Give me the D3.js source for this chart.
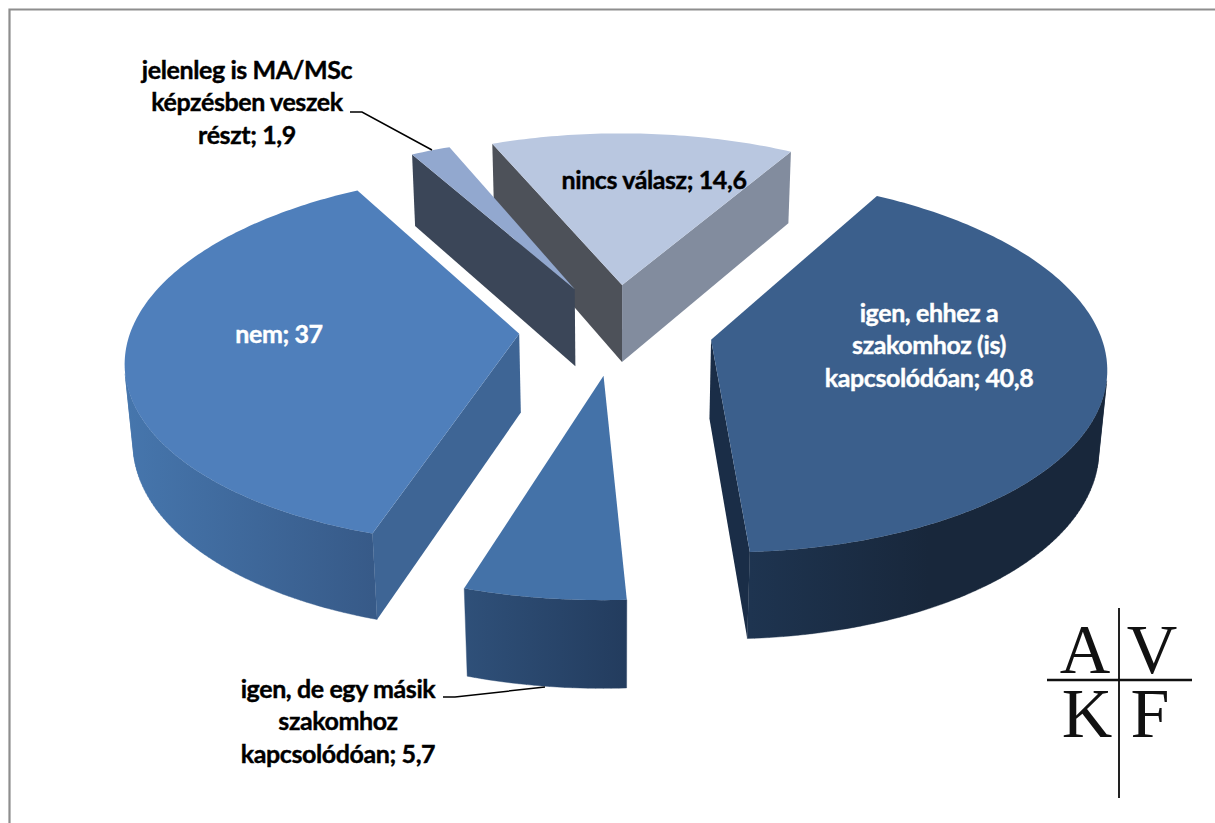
<!DOCTYPE html>
<html>
<head>
<meta charset="utf-8">
<script src="https://cdn.jsdelivr.net/npm/d3@7"></script>
<style>
  html, body { margin: 0; padding: 0; background: #fff; overflow: hidden; }
  text { font-family: Lato, sans-serif; font-weight: 700; }
</style>
</head>
<body>
<div id="chart"></div>
<script>
const W = 1215;
const H = 823;

const categories = ['igen, ehhez a szakomhoz (is) kapcsolódóan', 'igen, de egy másik szakomhoz kapcsolódóan', 'nem', 'jelenleg is MA/MSc képzésben veszek részt', 'nincs válasz'];
const values = [40.8, 5.7, 37, 1.9, 14.6];
const labelLines = [
  ['igen, ehhez a', 'szakomhoz (is)', 'kapcsolódóan; 40,8'],
  ['igen, de egy másik', 'szakomhoz', 'kapcsolódóan; 5,7'],
  ['nem; 37'],
  ['jelenleg is MA/MSc', 'képzésben veszek', 'részt; 1,9'],
  ['nincs válasz; 14,6']
];

// colours per slice
const topColors = ['#3b5f8c', '#4472a8', '#4f7fbb', '#92a8cf', '#b9c7e0'];
const startWall = ['#1a2d47', '#2a4668', '#3e6595', '#3b4658', '#4d5159'];
const endWall = ['#1a2d47', '#2a4668', '#3e6595', '#3b4658', '#828c9e'];
const rimStops = [
  ['#1e3450', '#18273b', '#18273b'],
  ['#2f5079', '#233c5e'],
  ['#4676ad', '#375a88'],
  ['#3b4658', '#3b4658'],
  ['#828c9e', '#828c9e']
];
const labelColors = ['#fff', '#000', '#fff', '#000', '#000'];

// label anchors, leaders
const labelPos = [[929, 322], [338, 698], [279, 343], [247, 79], [654, 189]];
const leaders = [
  null,
  [[443, 697], [455, 697], [545, 687]],
  null,
  [[350, 112], [362, 112], [432, 150]],
  null
];

// rough camera for the tilted pie
const cx = 616, cy = 329, R = 388, K = 182, DEPTH = 80, P = 0.13, Q = 0.017, EXPLODE = 0.25;
const START = 30 * Math.PI / 180;

function project(u, v, z) {
  const w = 1 / (1 - P * v + Q * z);
  return [cx + u * R * w, cy + (v * K + z * DEPTH) * w];
}

const svg = d3.select('#chart').append('svg')
  .attr('width', W)
  .attr('height', H)
  .style('display', 'block');

svg.append('path')
  .attr('d', `M9.5,${H + 5}V9.5H${W + 5}`)
  .attr('fill', 'none')
  .attr('stroke', '#8e8e8e')
  .attr('stroke-width', 2.2);

const pie = d3.pie().sort(null).value(d => d).startAngle(START).endAngle(START + 2 * Math.PI);
const line = d3.line();
const defs = svg.append('defs');

const slices = pie(values).map((d, i) => {
  const mid = (d.startAngle + d.endAngle) / 2;
  const ou = EXPLODE * Math.sin(mid);
  const ov = -EXPLODE * Math.cos(mid);
  const n = Math.max(4, Math.round((d.endAngle - d.startAngle) * 60));
  const angles = d3.range(n + 1).map(k => d.startAngle + (d.endAngle - d.startAngle) * k / n);
  const rim = z => angles.map(a => project(ou + Math.sin(a), ov - Math.cos(a), z));
  const apex = z => project(ou, ov, z);
  return { i, ov, rim, apex };
});

// paint back to front
const order = slices.slice().sort((a, b) => a.ov - b.ov);

order.forEach(s => {
  const g = svg.append('g');
  const topRim = s.rim(0);
  const botRim = s.rim(1);

  const xs = d3.extent(topRim, p => p[0]);
  const grad = defs.append('linearGradient')
    .attr('id', 'rim' + s.i)
    .attr('gradientUnits', 'userSpaceOnUse')
    .attr('x1', xs[0]).attr('x2', xs[1])
    .attr('y1', 0).attr('y2', 0);
  rimStops[s.i].forEach((c, k, arr) => {
    grad.append('stop').attr('offset', k / (arr.length - 1)).attr('stop-color', c);
  });

  // outer wall as small quads, the ones turned away are dropped
  const quads = d3.pairs(d3.range(topRim.length))
    .map(([a, b]) => [topRim[a], topRim[b], botRim[b], botRim[a]])
    .filter(q => d3.polygonArea(q) > 0);
  if (quads.length) {
    g.append('path')
      .attr('d', quads.map(q => line(q) + 'Z').join(''))
      .attr('fill', `url(#rim${s.i})`)
      .attr('stroke', `url(#rim${s.i})`)
      .attr('stroke-width', 0.4);
  }

  const startQuad = [s.apex(0), topRim[0], botRim[0], s.apex(1)];
  const endQuad = [s.apex(0), topRim[topRim.length - 1], botRim[botRim.length - 1], s.apex(1)];
  if (d3.polygonArea(startQuad) > 0) {
    g.append('path').attr('d', line(startQuad) + 'Z').attr('fill', startWall[s.i]);
  }
  if (d3.polygonArea(endQuad) < 0) {
    g.append('path').attr('d', line(endQuad) + 'Z').attr('fill', endWall[s.i]);
  }

  g.append('path')
    .attr('d', line([s.apex(0)].concat(topRim)) + 'Z')
    .attr('fill', topColors[s.i]);
});

// leaders
leaders.forEach(pts => {
  if (!pts) return;
  svg.append('path')
    .attr('d', line(pts))
    .attr('fill', 'none')
    .attr('stroke', '#000')
    .attr('stroke-width', 1.5);
});

// labels
labelLines.forEach((lines, i) => {
  const t = svg.append('text')
    .attr('text-anchor', 'middle')
    .attr('fill', labelColors[i])
    .attr('stroke', labelColors[i])
    .attr('stroke-width', 0.4)
    .style('font-size', '25px')
    .style('letter-spacing', '-0.4px');
  lines.forEach((str, k) => {
    t.append('tspan')
      .attr('x', labelPos[i][0])
      .attr('y', labelPos[i][1] + k * 32.3)
      .text(str);
  });
});

// logo
const logoLetters = ['A', 'V', 'K', 'F'];
const logoPos = [[1085, 673], [1152, 673], [1087, 737], [1150, 737]];
const logo = svg.append('g');
logo.selectAll('text')
  .data(logoLetters)
  .enter()
  .append('text')
  .attr('x', (d, i) => logoPos[i][0])
  .attr('y', (d, i) => logoPos[i][1])
  .attr('text-anchor', 'middle')
  .attr('fill', '#111')
  .style('font-family', '"Liberation Serif", serif')
  .style('font-weight', 400)
  .style('font-size', '70px')
  .text(d => d);
logo.append('line').attr('x1', 1119).attr('x2', 1119).attr('y1', 608).attr('y2', 798).attr('stroke', '#222').attr('stroke-width', 2);
logo.append('line').attr('x1', 1047).attr('x2', 1192).attr('y1', 680).attr('y2', 680).attr('stroke', '#111').attr('stroke-width', 2.5);
</script>
</body>
</html>
